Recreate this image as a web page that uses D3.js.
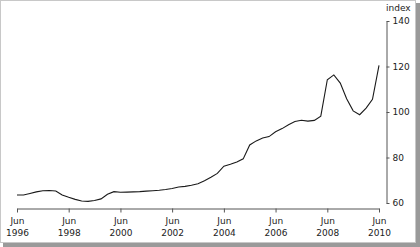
<!DOCTYPE html>
<html><head><meta charset="utf-8">
<script src="https://cdn.jsdelivr.net/npm/d3@7"></script>
<style>
body{margin:0;padding:0;background:#fff;}
svg{display:block;}
text{font-family:"DejaVu Sans",Verdana,sans-serif;}
</style></head><body>
<svg id="c" width="420" height="247"></svg>
<script>
// Quarterly index values, Jun 1996 to Jun 2010
const startYear = 1996;
const values = [
 63.5,63.5,64.2,64.9,65.4,65.5,65.3,63.5,
 62.5,61.6,60.9,60.7,61.1,61.8,63.8,65.0,
 64.7,64.8,64.9,65.0,65.2,65.4,65.6,65.9,
 66.4,67.0,67.3,67.8,68.5,69.8,71.3,73.0,
 76.2,77.0,78.0,79.4,85.5,87.3,88.6,89.2,
 91.3,92.7,94.4,95.8,96.4,96.0,96.3,98.2,
 114.2,116.3,112.7,105.8,100.5,98.8,101.7,105.6,
 120.5
];
const xTickYears = [1996,1998,2000,2002,2004,2006,2008,2010];
const yTicks = [60,80,100,120,140];
const yLabel = "index";
const monthLabel = "Jun";

const data = values.map((v,i)=>({date:new Date(startYear, 5 + i*3, 1), v}));

const svg = d3.select("#c");
// frame with shadow
svg.append("rect").attr("x",3).attr("y",3).attr("width",417).attr("height",244).attr("fill","#9a9a9a");
svg.append("rect").attr("x",0.5).attr("y",0.5).attr("width",415).attr("height",242).attr("fill","#fff").attr("stroke","#c8c8c8");

const x = d3.scaleTime().domain([new Date(1996,5,1), new Date(2010,5,1)]).range([17,379]);
const y = d3.scaleLinear().domain([60,140]).range([203,21]);

const axisColor = "#555";
const textColor = "#222";

// x axis
const gx = svg.append("g").attr("transform","translate(0,208.5)")
  .call(d3.axisBottom(x).tickValues(xTickYears.map(yr=>new Date(yr,5,1))).tickSize(4).tickSizeOuter(0).tickFormat(""));
gx.select(".domain").attr("stroke",axisColor);
gx.selectAll(".tick line").attr("stroke",axisColor);
gx.selectAll(".tick").each(function(d){
  const g = d3.select(this);
  g.append("text").attr("y",15).attr("text-anchor","middle").attr("fill",textColor).attr("font-size","9px").text(monthLabel);
  g.append("text").attr("y",27).attr("text-anchor","middle").attr("fill",textColor).attr("font-size","9px").text(d.getFullYear());
});

// y axis
const gy = svg.append("g").attr("transform","translate(386.5,0)")
  .call(d3.axisRight(y).tickValues(yTicks).tickSize(3).tickSizeOuter(0).tickPadding(3));
gy.select(".domain").attr("stroke",axisColor);
gy.selectAll(".tick line").attr("stroke",axisColor);
gy.selectAll(".tick text").attr("fill",textColor).attr("font-size","9px").attr("font-family","DejaVu Sans, sans-serif");

svg.append("text").attr("x",386).attr("y",11).attr("fill",textColor).attr("font-size","9px").text(yLabel);

// line
const line = d3.line().x(d=>x(d.date)).y(d=>y(d.v));
svg.append("path").datum(data).attr("d",line).attr("fill","none").attr("stroke","#1a1a1a").attr("stroke-width",1.1);
</script>
</body></html>
